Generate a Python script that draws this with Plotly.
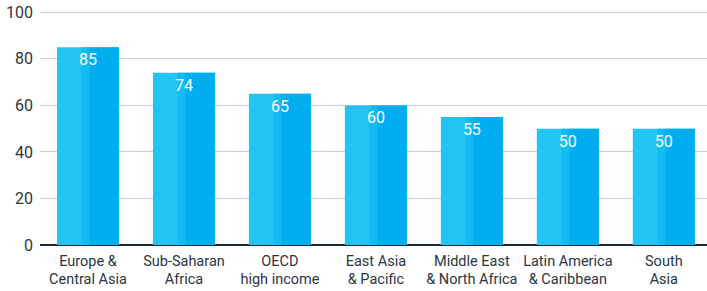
import plotly.graph_objects as go

categories = ["Europe &<br>Central Asia", "Sub-Saharan<br>Africa", "OECD<br>high income",
              "East Asia<br>& Pacific", "Middle East<br>& North Africa",
              "Latin America<br>& Caribbean", "South<br>Asia"]
values = [85, 74, 65, 60, 55, 50, 50]
y_ticks = [0, 20, 40, 60, 80, 100]

W = 0.646
fig = go.Figure()
# light full bar
fig.add_trace(go.Bar(x=categories, y=values, width=W, offset=-W/2,
                     marker=dict(color="#25c3f3", line=dict(width=0)), hoverinfo="skip"))
# mid transition
fig.add_trace(go.Bar(x=categories, y=values, width=W*0.12, offset=-W/2 + W*0.40,
                     marker=dict(color="#12bbf1", line=dict(width=0)), hoverinfo="skip"))
# dark right part
fig.add_trace(go.Bar(x=categories, y=values, width=W*0.48, offset=-W/2 + W*0.52,
                     marker=dict(color="#00aeef", line=dict(width=0)), hoverinfo="skip"))
# labels
fig.add_trace(go.Bar(x=categories, y=values, width=W, offset=-W/2,
                     marker=dict(color="rgba(0,0,0,0)", line=dict(width=0)),
                     text=[str(v) for v in values], textposition="inside",
                     insidetextanchor="end", textangle=0,
                     textfont=dict(color="white", size=16, family="Roboto"),
                     hoverinfo="skip"))

fig.update_layout(
    width=707, height=291, barmode="overlay", showlegend=False,
    margin=dict(l=40, r=0, t=10, b=46),
    plot_bgcolor="white", paper_bgcolor="white",
    font=dict(family="Roboto, sans-serif", color="#2b3645"),
)
fig.update_xaxes(range=[-0.5, 6.45], showgrid=False, showline=False, ticks="",
                 automargin=False, ticklabelstandoff=5,
                 tickfont=dict(size=14.5, color="#2b3645"))
fig.update_yaxes(range=[0, 101], tickvals=y_ticks, showgrid=True, gridcolor="#c9ced6",
                 gridwidth=1, zeroline=True, zerolinecolor="#1d2838", zerolinewidth=1.5,
                 showline=False, ticks="", ticklabelstandoff=6, automargin=False,
                 tickfont=dict(size=16, color="#2b3645", family="Roboto"))
fig.write_html("out.html", config={"displayModeBar": False},
               post_script="document.body.style.margin='0';document.body.style.overflow='hidden';")
